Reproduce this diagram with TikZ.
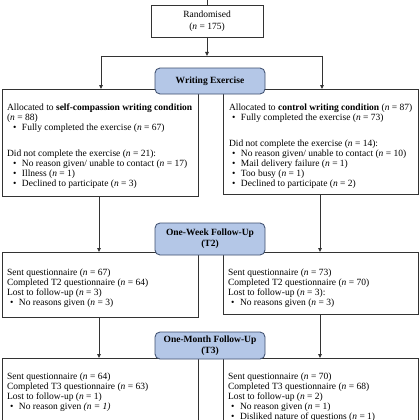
\documentclass[tikz,border=0pt]{standalone}
\usepackage{fontspec}
\setmainfont{Liberation Serif}
\usetikzlibrary{arrows.meta}
\definecolor{hdrfill}{HTML}{B4C7E7}
\definecolor{hdrdraw}{HTML}{3E4F6E}
\definecolor{linecol}{HTML}{333333}
\newcommand\bulL{\hspace*{6pt}\makebox[9pt][l]{\textbullet}}
\newcommand\bulR{\hspace*{3pt}\makebox[9pt][l]{\textbullet}}
\newcommand\nn{\textit{n}}
\begin{document}
\begin{tikzpicture}[x=1pt,y=-1pt,
  every node/.style={inner sep=0pt, outer sep=0pt, font=\fontsize{9.5pt}{10pt}\selectfont},
  plainbox/.style={draw=linecol, line width=0.85pt, fill=white, rectangle},
  hdrbox/.style={draw=hdrdraw, line width=0.85pt, fill=hdrfill, rounded corners=5pt, align=center, font=\fontsize{9.5pt}{11pt}\selectfont\bfseries},
  boxtext/.style={anchor=north west, align=left},
  conn/.style={draw=linecol, line width=0.85pt},
  arr/.style={conn, -{Triangle[length=4pt,width=3.5pt]}}
]
\useasboundingbox (0,0) rectangle (420,420);

% Randomised
\node[plainbox, minimum width=112pt, minimum height=32pt, align=center, font=\fontsize{9.5pt}{11.5pt}\selectfont] (rand) at (207,21) {Randomised\\(\nn{} = 175)};
\coordinate (top) at (207,0);
\draw[conn] (top) -- (rand.north);

% split
\coordinate (split) at (207,56);
\coordinate (splitL) at (101,56);
\coordinate (splitR) at (322,56);
\draw[arr] (rand.south) -- (split);
\draw[conn] (splitL) -- (splitR);

% allocation boxes
\node[plainbox, minimum width=196pt, minimum height=107pt] (allocL) at (100,142.5) {};
\node[plainbox, minimum width=195pt, minimum height=105pt] (allocR) at (320.5,141.5) {};
\draw[arr] (splitL) -- (splitL |- allocL.north);
\draw[arr] (splitR) -- (splitR |- allocR.north);

\node[boxtext] (allocLt) at (7,103.5) {Allocated to \textbf{self-compassion writing condition}\\
(\nn{} = 88)\\
\bulL Fully completed the exercise (\nn{} = 67)\\[16.5pt]
Did not complete the exercise (\nn{} = 21):\\
\bulL No reason given/ unable to contact (\nn{} = 17)\\
\bulL Illness (\nn{} = 1)\\
\bulL Declined to participate (\nn{} = 3)};

\node[boxtext] (allocRt) at (229,103.5) {Allocated to \textbf{control writing condition} (\nn{} = 87)\\
\bulR Fully completed the exercise (\nn{} = 73)\\[16pt]
Did not complete the exercise (\nn{} = 14):\\
\bulR No reason given/ unable to contact (\nn{} = 10)\\
\bulR Mail delivery failure (\nn{} = 1)\\
\bulR Too busy (\nn{} = 1)\\
\bulR Declined to participate (\nn{} = 2)};

\node[hdrbox, minimum width=110pt, minimum height=26pt] (wex) at (210,81) {Writing Exercise};

% T2 boxes
\node[plainbox, minimum width=196pt, minimum height=65pt] (t2L) at (100,284.5) {};
\node[plainbox, minimum width=195pt, minimum height=62pt] (t2R) at (320.5,283) {};
\coordinate (aL) at (99,196);
\coordinate (aR) at (320,194);
\draw[arr] (aL) -- (aL |- t2L.north);
\draw[arr] (aR) -- (aR |- t2R.north);

\node[boxtext] (t2Lt) at (7,268.5) {Sent questionnaire (\nn{} = 67)\\
Completed T2 questionnaire (\nn{} = 64)\\
Lost to follow-up (\nn{} = 3)\\
\bulR No reasons given (\nn{} = 3)};
\node[boxtext] (t2Rt) at (228,268.5) {Sent questionnaire (\nn{} = 73)\\
Completed T2 questionnaire (\nn{} = 70)\\
Lost to follow-up (\nn{} = 3):\\
\bulR No reasons given (\nn{} = 3)};

\node[hdrbox, minimum width=110pt, minimum height=32pt] (t2h) at (210,239) {One-Week Follow-Up\\(T2)};

% T3 boxes
\node[plainbox, minimum width=196pt, minimum height=80pt] (t3L) at (100,398) {};
\node[plainbox, minimum width=195pt, minimum height=80pt] (t3R) at (320.5,398) {};
\coordinate (bL) at (99,317);
\coordinate (bR) at (320,314);
\draw[arr] (bL) -- (bL |- t3L.north);
\draw[arr] (bR) -- (bR |- t3R.north);

\node[boxtext] (t3Lt) at (7,373) {Sent questionnaire (\nn{} = 64)\\
Completed T3 questionnaire (\nn{} = 63)\\
Lost to follow-up (\nn{} = 1)\\
\bulR No reason given \textit{(n = 1)}};
\node[boxtext] (t3Rt) at (228,373) {Sent questionnaire (\nn{} = 70)\\
Completed T3 questionnaire (\nn{} = 68)\\
Lost to follow-up (\nn{} = 2)\\
\bulR No reason given (\nn{} = 1)\\
\bulR Disliked nature of questions (\nn{} = 1)};

\node[hdrbox, minimum width=110pt, minimum height=27pt] (t3h) at (210,345.5) {One-Month Follow-Up\\(T3)};
\end{tikzpicture}
\end{document}
